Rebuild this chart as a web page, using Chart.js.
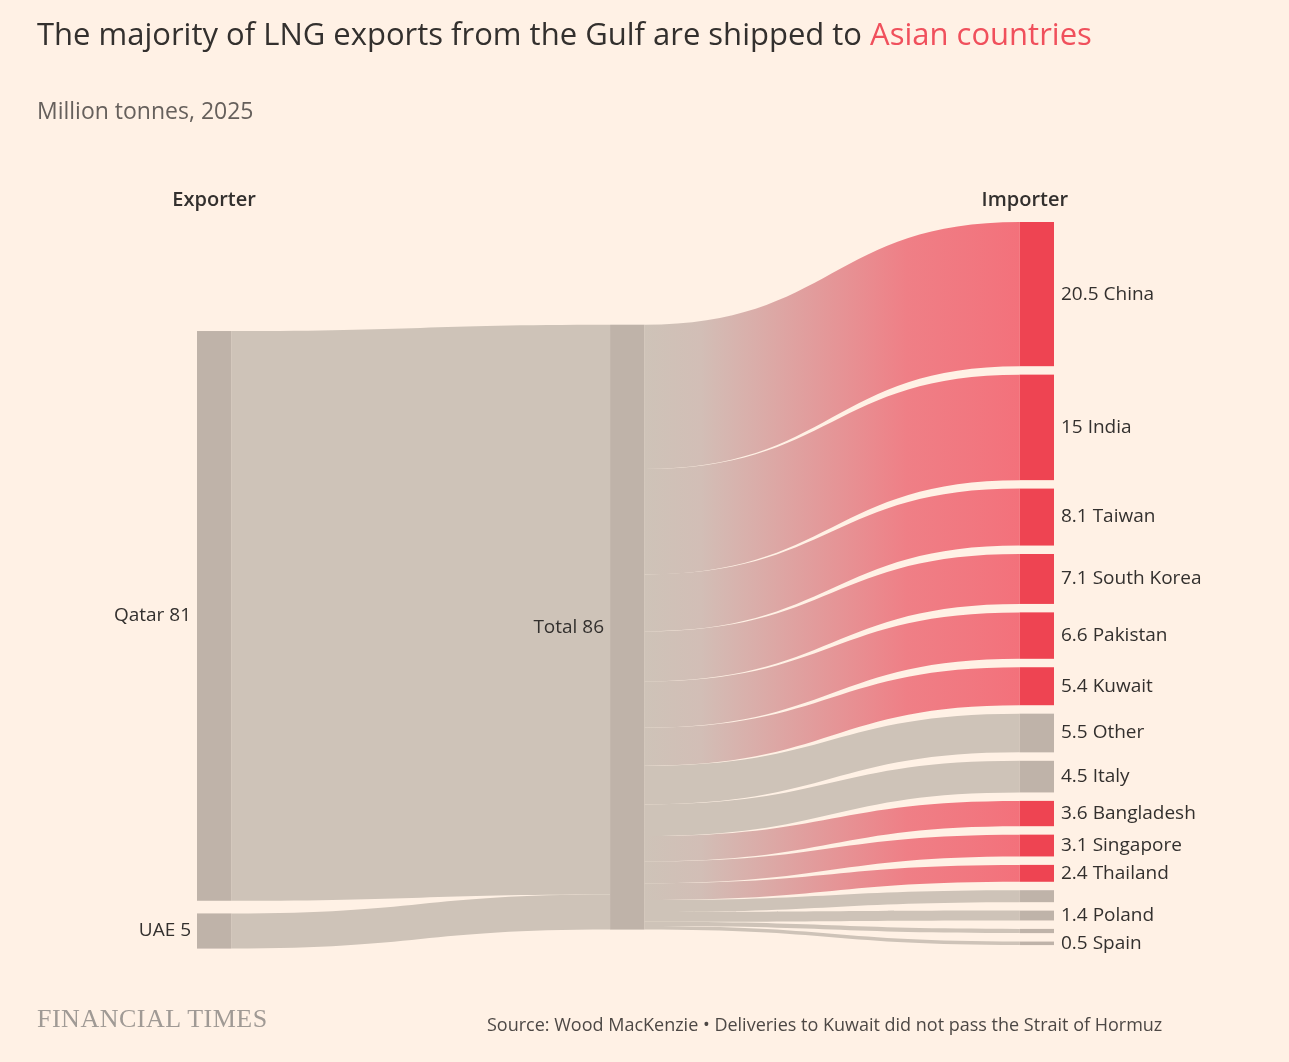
<!DOCTYPE html>
<html><head><meta charset="utf-8">
<script src="https://cdn.jsdelivr.net/npm/chart.js@4"></script>
<style>
html,body{margin:0;padding:0;background:#fff1e5;font-family:"Open Sans",sans-serif;}
#wrap{position:relative;width:1289px;height:1062px;}
canvas{position:absolute;left:0;top:0;}
.t{position:absolute;color:#33302e;white-space:nowrap;}
</style></head><body>
<div id="wrap">
<canvas id="c" width="1289" height="1062"></canvas>
<div class="t" style="left:37px;top:12px;font-size:31px;">The majority of LNG exports from the Gulf are shipped to <span style="color:#f0505c">Asian countries</span></div>
<div class="t" style="left:37px;top:94px;font-size:23px;color:#66605c">Million tonnes, 2025</div>
<div class="t" style="left:37px;top:1004px;font-size:26px;color:#a09a95;font-family:'Liberation Serif',serif;letter-spacing:0.5px">FINANCIAL TIMES</div>
<div class="t" style="left:487px;top:1012px;font-size:18px;color:#4d4845">Source: Wood MacKenzie • Deliveries to Kuwait did not pass the Strait of Hormuz</div>
</div>
<script>
const exporters = ['Qatar', 'UAE'];
const exporterValues = [81, 5];
const totalLabel = 'Total';
const totalValue = 86;
const importers = ['China','India','Taiwan','South Korea','Pakistan','Kuwait','Other','Italy','Bangladesh','Singapore','Thailand','','Poland','','Spain'];
const importerValues = [20.5,15,8.1,7.1,6.6,5.4,5.5,4.5,3.6,3.1,2.4,1.7,1.4,0.6,0.5];
const importerAsian = [true,true,true,true,true,true,false,false,true,true,true,false,false,false,false];

const GREY_FLOW = '#cec3b8', GREY_NODE = '#bfb3a9', PINK_NODE = '#ee4452', PINK_FLOW = '#f3717b';
const COLX = [0, 0.482, 0.96]; const NODEW = 0.04;
const GAP = 1.2;
const leftStart = [15.5, 98.3];
const midStart = 14.6;

const sankey = {
  id: 'sankey',
  afterDatasetsDraw(chart) {
    const ctx = chart.ctx, xs = chart.scales.x, ys = chart.scales.y;
    const X = v => xs.getPixelForValue(v), Y = v => ys.getPixelForValue(v);
    function flow(x0, a0, b0, x1, a1, b1, fill) {
      const px0 = X(x0), px1 = X(x1), mx = (px0 + px1) / 2;
      ctx.beginPath();
      ctx.moveTo(px0, Y(a0));
      ctx.bezierCurveTo(mx, Y(a0), mx, Y(a1), px1, Y(a1));
      ctx.lineTo(px1, Y(b1));
      ctx.bezierCurveTo(mx, Y(b1), mx, Y(b0), px0, Y(b0));
      ctx.closePath(); ctx.fillStyle = fill; ctx.fill();
    }
    function node(x, a, b, color) {
      ctx.fillStyle = color;
      ctx.fillRect(X(x), Y(a), X(x + NODEW) - X(x), Y(b) - Y(a));
    }
    ctx.save();
    // exporter -> total
    let m = midStart;
    exporters.forEach((e, i) => {
      const s = leftStart[i], v = exporterValues[i];
      flow(COLX[0] + NODEW, s, s + v, COLX[1], m, m + v, GREY_FLOW);
      m += v;
    });
    // total -> importers
    m = midStart; let r = 0;
    importers.forEach((imp, i) => {
      const v = importerValues[i];
      let fill = GREY_FLOW;
      if (importerAsian[i]) {
        const g = ctx.createLinearGradient(X(COLX[1] + NODEW), 0, X(COLX[2]), 0);
        g.addColorStop(0, 'rgba(206,195,184,1)');
        g.addColorStop(0.15, 'rgba(210,190,182,1)');
        g.addColorStop(0.7, '#ef7f86');
        g.addColorStop(1, PINK_FLOW);
        fill = g;
      }
      flow(COLX[1] + NODEW, m, m + v, COLX[2], r, r + v, fill);
      m += v; r += v + GAP;
    });
    // nodes
    exporters.forEach((e, i) => node(COLX[0], leftStart[i], leftStart[i] + exporterValues[i], GREY_NODE));
    node(COLX[1], midStart, midStart + totalValue, GREY_NODE);
    r = 0;
    importers.forEach((imp, i) => {
      const v = importerValues[i];
      node(COLX[2], r, r + v, importerAsian[i] ? PINK_NODE : GREY_NODE);
      r += v + GAP;
    });
    // labels
    ctx.fillStyle = '#33302e'; ctx.textBaseline = 'middle';
    ctx.font = '19px "Open Sans"';
    ctx.textAlign = 'right';
    exporters.forEach((e, i) => ctx.fillText(e + ' ' + exporterValues[i], X(COLX[0]) - 6, Y(leftStart[i] + exporterValues[i] / 2)));
    ctx.fillText(totalLabel + ' ' + totalValue, X(COLX[1]) - 6, Y(midStart + totalValue / 2));
    ctx.textAlign = 'left';
    r = 0;
    importers.forEach((imp, i) => {
      const v = importerValues[i];
      if (imp) ctx.fillText(v + ' ' + imp, X(COLX[2] + NODEW) + 7, Y(r + v / 2));
      r += v + GAP;
    });
    ctx.font = '600 20px "Open Sans"'; ctx.textAlign = 'center';
    ctx.fillText('Exporter', X(COLX[0] + NODEW / 2), 200);
    ctx.fillText('Importer', X(COLX[2] + NODEW / 2) - 12, 200);
    ctx.restore();
  }
};

new Chart(document.getElementById('c'), {
  type: 'scatter',
  data: { datasets: [{ data: [], pointRadius: 0 }] },
  options: {
    responsive: false, animation: false,
    layout: { padding: { left: 197, right: 235, top: 222, bottom: 112 } },
    plugins: { legend: { display: false }, tooltip: { enabled: false } },
    scales: {
      x: { type: 'linear', min: 0, max: 1, display: false },
      y: { type: 'linear', min: 0, max: 103.5, reverse: true, display: false }
    }
  },
  plugins: [sankey]
});
</script>
</body></html>
